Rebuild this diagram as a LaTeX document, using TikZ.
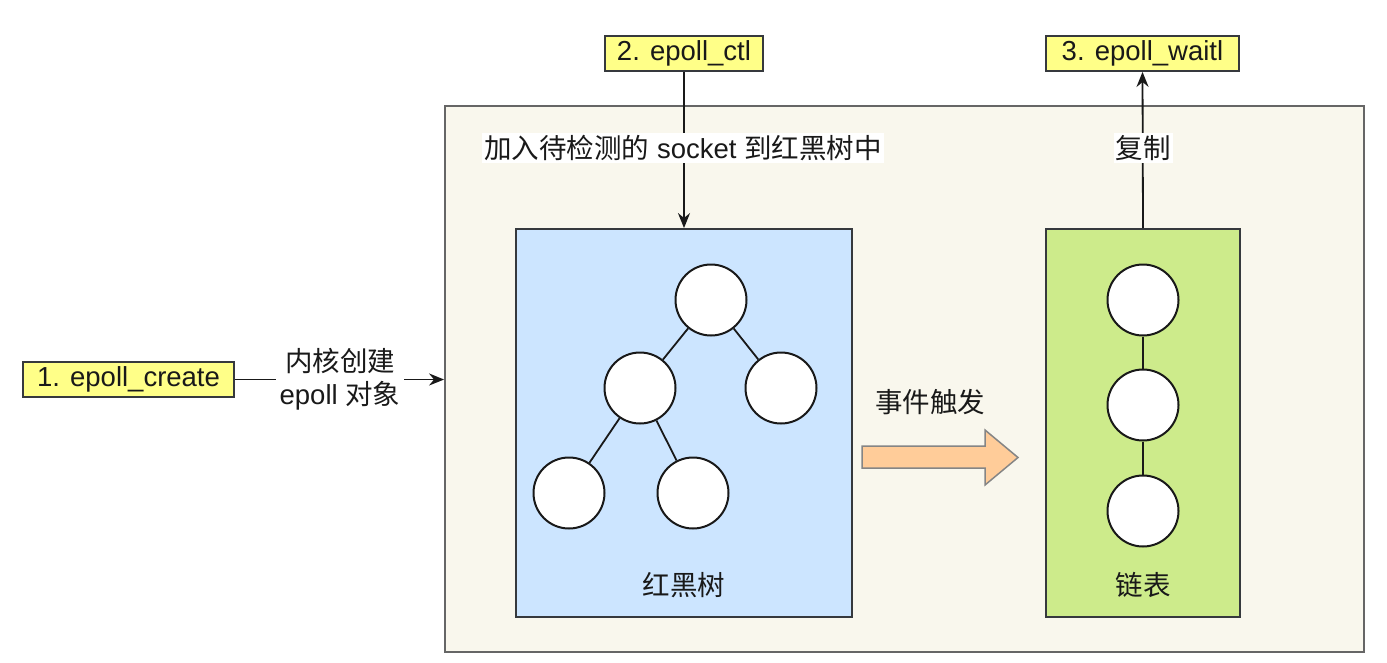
\documentclass[tikz,border=0pt]{standalone}
\usepackage{fontspec}
\setmainfont{Liberation Sans}
\newfontfamily\cjk{Noto Sans CJK SC}
\usetikzlibrary{arrows.meta}
\definecolor{outerfill}{HTML}{F9F7ED}
\definecolor{outerline}{HTML}{666666}
\definecolor{bluefill}{HTML}{CCE5FF}
\definecolor{greenfill}{HTML}{CDEB8B}
\definecolor{apifill}{HTML}{FFFF88}
\definecolor{orangefill}{HTML}{FFCC99}
\definecolor{darkline}{HTML}{36393D}
\tikzset{
  txt/.style={font=\fontsize{27.5}{33}\selectfont, text=black!90},
  apibox/.style={txt, draw=darkline, fill=apifill, line width=1.8pt, minimum height=35pt, inner sep=0pt},
  container/.style={draw=darkline, line width=1.8pt, inner sep=0pt},
  ball/.style={circle, draw=black!90, fill=white, line width=2pt, minimum size=71pt, inner sep=0pt},
  link/.style={draw=black!90, line width=1.8pt},
  arr/.style={link, -{Stealth[length=15pt, width=12pt]}},
  lbl/.style={txt, fill=white, inner sep=2pt, align=center}
}
\begin{document}
\begin{tikzpicture}[x=1pt, y=-1pt]
\useasboundingbox[fill=white] (0,0) rectangle (1387,662);
% outer container
\node[container, draw=outerline, fill=outerfill, minimum width=919pt, minimum height=546pt] (outer) at (904.5,379) {};
% red-black tree box
\node[container, fill=bluefill, minimum width=336pt, minimum height=388pt] (rbt) at (684,423) {};
% linked list box
\node[container, fill=greenfill, minimum width=194pt, minimum height=388pt] (list) at (1143,423) {};
% api boxes
\node[apibox, minimum width=211pt] (create) at (128.5,379.5) {1. epoll\_create};
\node[apibox, minimum width=158pt] (ctl) at (684,53.5) {2. epoll\_ctl};
\node[apibox, minimum width=193pt] (wait) at (1142.5,53.5) {3. epoll\_waitl};
% tree
\node[ball] (r) at (711,300) {};
\node[ball] (a) at (640,388) {};
\node[ball] (b) at (781,388) {};
\node[ball] (c) at (569,493) {};
\node[ball] (d) at (693,493) {};
\draw[link] (r) -- (a);
\draw[link] (r) -- (b);
\draw[link] (a) -- (c);
\draw[link] (a) -- (d);
\node[txt] (rbtlbl) at (684,585) {\cjk 红黑树};
% list
\node[ball] (l1) at (1143,300) {};
\node[ball] (l2) at (1143,405) {};
\node[ball] (l3) at (1143,511) {};
\draw[link] (l1) -- (l2);
\draw[link] (l2) -- (l3);
\node[txt] (listlbl) at (1143,585) {\cjk 链表};
% connectors
\coordinate (outerleft) at (outer.west |- create.east);
\draw[link] (create.east) -- (276,379.5);
\draw[arr] (404,379.5) -- (outerleft);
\node[lbl, fill=none] (kern) at (340,379) {{\cjk 内核创建}\\epoll {\cjk 对象}};
\draw[arr] (ctl.south) -- (rbt.north);
\node[lbl] (addlbl) at (683,148) {{\cjk 加入待检测的} socket {\cjk 到红黑树中}};
\draw[arr] (list.north) -- (wait.south);
\node[lbl] (copylbl) at (1143,148) {\cjk 复制};
% event block arrow
\node[txt] (evlbl) at (930,402) {\cjk 事件触发};
\draw[draw=outerline!80, fill=orangefill, line width=1.5pt, line join=miter]
  (862,446) -- (985,446) -- (985,430) -- (1018,457.5) -- (985,485) -- (985,468) -- (862,468) -- cycle;
\end{tikzpicture}
\end{document}
